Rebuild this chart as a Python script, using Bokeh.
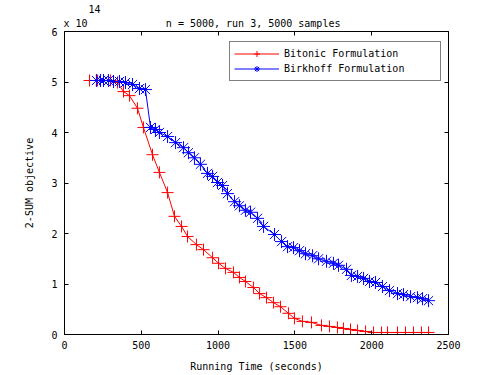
from bokeh.plotting import figure
from bokeh.models import Range1d, LinearAxis, Legend, LegendItem, FixedTicker, Title
from bokeh.embed import file_html
from bokeh.resources import INLINE

# Data (y values in units of 1e14)
bitonic_time = [163, 215, 254, 299, 345, 384, 423, 475, 514, 573, 618, 671, 716, 762, 801,
                859, 905, 964, 1003, 1048, 1100, 1139, 1178, 1230, 1270, 1315, 1361, 1406,
                1458, 1497, 1549, 1608, 1673, 1725, 1777, 1816, 1862, 1908, 1960, 2012,
                2064, 2103, 2168, 2220, 2272, 2324, 2370]
bitonic_obj = [5.03, 5.03, 5.03, 5.03, 4.99, 4.81, 4.73, 4.48, 4.10, 3.56, 3.21, 2.81, 2.34,
               2.14, 1.94, 1.78, 1.68, 1.52, 1.41, 1.31, 1.23, 1.13, 1.05, 0.93, 0.81, 0.73,
               0.63, 0.55, 0.42, 0.32, 0.26, 0.24, 0.18, 0.16, 0.14, 0.12, 0.10, 0.08, 0.06,
               0.04, 0.04, 0.04, 0.04, 0.04, 0.04, 0.04, 0.04]

birkhoff_time = [208, 234, 254, 286, 319, 358, 397, 443, 488, 527, 560, 592, 618, 671, 723,
                 775, 807, 846, 885, 931, 964, 996, 1029, 1061, 1107, 1139, 1178, 1211, 1257,
                 1296, 1367, 1413, 1452, 1491, 1530, 1569, 1615, 1654, 1706, 1751, 1784, 1836,
                 1868, 1908, 1947, 1986, 2025, 2070, 2116, 2168, 2207, 2253, 2298, 2331, 2370]
birkhoff_obj = [5.03, 5.03, 5.03, 5.03, 5.01, 5.01, 4.99, 4.95, 4.87, 4.85, 4.10, 4.06, 4.00,
                3.92, 3.80, 3.70, 3.60, 3.50, 3.37, 3.19, 3.13, 3.01, 2.95, 2.79, 2.63, 2.55,
                2.46, 2.42, 2.30, 2.14, 1.98, 1.84, 1.74, 1.72, 1.66, 1.60, 1.56, 1.50, 1.45,
                1.41, 1.37, 1.29, 1.17, 1.15, 1.11, 1.05, 1.03, 0.95, 0.87, 0.81, 0.79, 0.75,
                0.73, 0.71, 0.67]

x_ticks = [0, 500, 1000, 1500, 2000, 2500]
y_ticks = [0, 1, 2, 3, 4, 5, 6]

title_text = "n = 5000, run 3, 5000 samples"
scale_text = "x 10"
scale_exp = "14"
x_label = "Running Time (seconds)"
y_label = "2-SUM objective"
labels = ["Bitonic Formulation", "Birkhoff Formulation"]

FONT = "DejaVu Sans Mono"
FS = "10px"

p = figure(width=495, height=375, output_backend="svg", toolbar_location=None,
           x_range=Range1d(0, 2500), y_range=Range1d(0, 6),
           min_border_left=64, min_border_right=47, min_border_top=31, min_border_bottom=41,
           x_axis_location=None, y_axis_location=None)
p.background_fill_color = "white"
p.border_fill_color = "white"
p.outline_line_color = "black"
p.outline_line_width = 1
p.xgrid.visible = False
p.ygrid.visible = False

def style_axis(ax, show_labels=True):
    ax.major_tick_in = 4
    ax.major_tick_out = 0
    ax.minor_tick_line_color = None
    ax.axis_line_color = "black"
    ax.major_tick_line_color = "black"
    ax.major_label_text_font = FONT
    ax.major_label_text_font_size = FS if show_labels else "0px"
    ax.major_label_text_color = "black"
    ax.axis_label_text_font = FONT
    ax.axis_label_text_font_size = FS
    ax.axis_label_text_font_style = "normal"
    ax.axis_label_text_color = "black"

xb = LinearAxis(ticker=FixedTicker(ticks=x_ticks), axis_label=x_label)
style_axis(xb)
xb.major_label_standoff = 6
xb.axis_label_standoff = 9
p.add_layout(xb, "below")

xt = LinearAxis(ticker=FixedTicker(ticks=x_ticks))
style_axis(xt, False)
xt.major_label_standoff = 0
p.add_layout(xt, "above")

yl = LinearAxis(ticker=FixedTicker(ticks=y_ticks), axis_label=y_label)
style_axis(yl)
yl.major_label_standoff = 7
yl.axis_label_standoff = 13
p.add_layout(yl, "left")

yr = LinearAxis(ticker=FixedTicker(ticks=y_ticks))
style_axis(yr, False)
yr.major_label_standoff = 0
p.add_layout(yr, "right")

r1l = p.line(bitonic_time, bitonic_obj, line_color="#ff0000", line_width=1)
r1m = p.scatter(bitonic_time, bitonic_obj, marker="cross", size=12, line_color="#ff0000",
                line_width=1)
r2l = p.line(birkhoff_time, birkhoff_obj, line_color="#0000ff", line_width=1)
r2m = p.scatter(birkhoff_time, birkhoff_obj, marker="asterisk", size=13, line_color="#0000ff",
                line_width=1)

legend = Legend(items=[LegendItem(label=labels[0], renderers=[r1l, r1m]),
                       LegendItem(label=labels[1], renderers=[r2l, r2m])],
                location=(165, 253), orientation="vertical")
legend.margin = 0
legend.padding = 4
legend.spacing = 0
legend.glyph_width = 45
legend.glyph_height = 15
legend.label_height = 15
legend.label_width = 152
legend.label_standoff = 5
legend.label_text_font = FONT
legend.label_text_font_size = FS
legend.label_text_color = "black"
legend.border_line_color = "black"
legend.border_line_width = 1
legend.background_fill_color = "white"
legend.background_fill_alpha = 1
p.add_layout(legend, "center")

NB = "\u00a0"
row1 = Title(text=scale_text + NB * 13 + title_text, align="left", offset=-1, standoff=6,
             text_font=FONT, text_font_size=FS, text_font_style="normal", text_color="black")
row2 = Title(text=scale_exp, align="left", offset=24, standoff=0,
             text_font=FONT, text_font_size=FS, text_font_style="normal", text_color="black")
p.add_layout(row1, "above")
p.add_layout(row2, "above")

open("out.html", "w").write(file_html(p, INLINE))
